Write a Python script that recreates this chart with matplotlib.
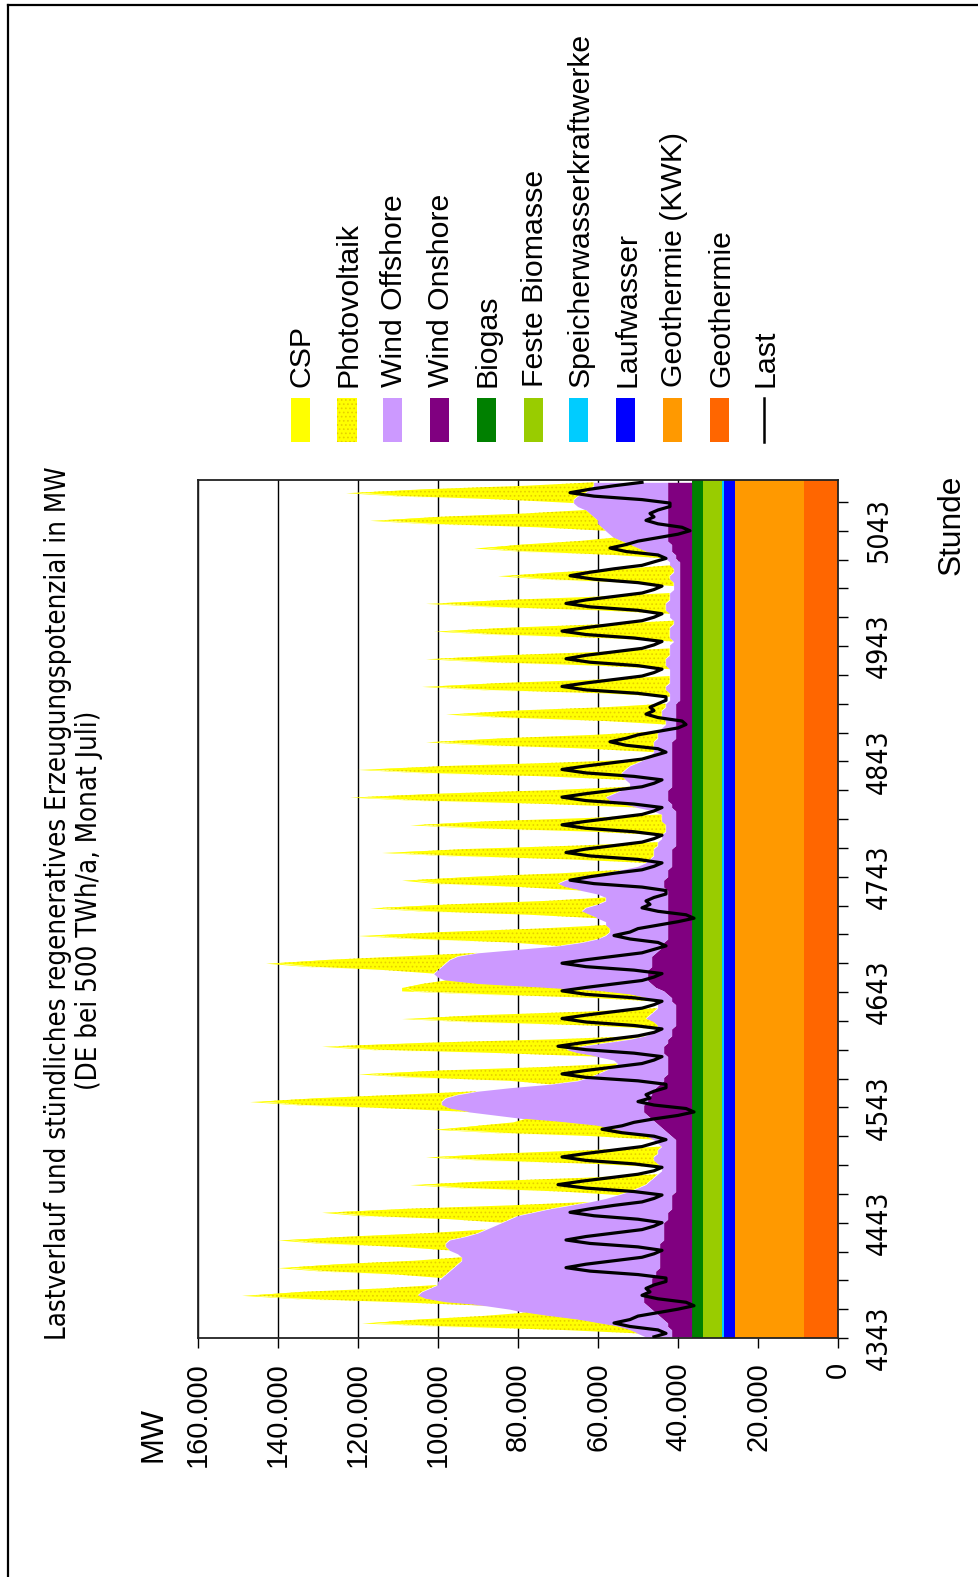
import numpy as np
import matplotlib
matplotlib.use("Agg")
import matplotlib.pyplot as plt
from matplotlib import font_manager
from matplotlib.patches import Rectangle
from matplotlib.lines import Line2D

W, H, DPI = 979, 1577, 100

# ---------------- data (values in 1000 MW) ----------------
START_HOUR = 4343
END_HOUR = 5087
SAMPLE_HOURS = [1, 4, 7, 10, 13, 16, 19, 22]   # sampled hours of each day

geothermie = 8.4
geothermie_kwk = 17.4
laufwasser = 2.8
speicherwasser = 0.4
feste_biomasse = 4.7
biogas = 2.9

wind_onshore = [
    [5, 5, 5, 6, 6, 7, 8, 9], [10, 11, 12, 12, 12, 11, 11, 10], [10, 10, 9, 9, 8, 8, 8, 8],
    [8, 8, 8, 8, 7, 7, 7, 7], [7, 7, 6, 6, 6, 5, 5, 5], [5, 5, 4, 4, 4, 4, 4, 4],
    [4, 4, 4, 4, 4, 4, 4, 4], [4, 4, 5, 6, 7, 8, 9, 10], [11, 12, 12, 12, 11, 11, 10, 10],
    [9, 8, 7, 7, 6, 6, 6, 6], [6, 6, 7, 7, 7, 6, 6, 5], [5, 5, 4, 4, 4, 4, 4, 4],
    [4, 5, 5, 6, 7, 9, 10, 11], [11, 11, 11, 10, 10, 10, 10, 9], [8, 7, 7, 6, 6, 6, 6, 6],
    [6, 6, 6, 6, 6, 6, 6, 6], [6, 6, 7, 7, 7, 6, 6, 6], [5, 5, 5, 5, 5, 5, 4, 4],
    [4, 4, 4, 4, 4, 4, 4, 4], [4, 5, 5, 6, 6, 6, 6, 5], [5, 5, 5, 5, 5, 5, 5, 5],
    [5, 5, 5, 5, 5, 4, 4, 4], [4, 4, 4, 4, 4, 4, 4, 4], [3, 3, 3, 3, 3, 3, 3, 3],
    [3, 3, 3, 3, 3, 3, 3, 3], [3, 3, 3, 3, 3, 3, 3, 3], [3, 3, 3, 3, 3, 3, 3, 3],
    [3, 3, 3, 3, 3, 3, 3, 3], [3, 4, 4, 5, 5, 5, 6, 6], [6, 6, 6, 6, 6, 6, 6, 6],
    [6, 6, 6, 6, 6, 6, 6, 6],
]

wind_offshore = [
    [6.5, 8.5, 10.5, 12.5, 17.5, 21.5, 27.5, 32.5], [35.5, 40.5, 49.5, 54.5, 56.5, 56.5, 54.5, 53.5],
    [53.5, 52.5, 52.5, 51.5, 51.5, 50.5, 49.5, 49.5], [50.5, 52.5, 53.5, 53.5, 53.5, 49.5, 46.5, 44.5],
    [42.5, 40.5, 39.5, 37.5, 33.5, 30.5, 25.5, 20.5], [16.5, 13.5, 11.5, 9.5, 7.5, 6.5, 5.5, 4.5],
    [3.5, 3.5, 4.5, 5.5, 5.5, 4.5, 4.5, 3.5], [4.5, 5.5, 6.5, 9.5, 12.5, 15.5, 22.5, 31.5],
    [37.5, 43.5, 48.5, 50.5, 51.5, 50.5, 48.5, 43.5], [36.5, 27.5, 21.5, 18.5, 17.5, 15.5, 13.5, 12.5],
    [13.5, 17.5, 21.5, 24.5, 20.5, 15.5, 9.5, 6.5], [4.5, 3.5, 4.5, 5.5, 7.5, 6.5, 5.5, 4.5],
    [4.5, 4.5, 6.5, 9.5, 16.5, 29.5, 43.5, 50.5], [52.5, 53.5, 52.5, 52.5, 51.5, 50.5, 48.5, 44.5],
    [35.5, 26.5, 20.5, 17.5, 15.5, 14.5, 14.5, 15.5], [15.5, 17.5, 19.5, 21.5, 20.5, 17.5, 15.5, 15.5],
    [17.5, 21.5, 24.5, 26.5, 24.5, 21.5, 15.5, 11.5], [8.5, 6.5, 5.5, 4.5, 4.5, 4.5, 4.5, 4.5],
    [3.5, 3.5, 2.5, 2.5, 2.5, 3.5, 3.5, 3.5], [5.5, 8.5, 12.5, 14.5, 15.5, 13.5, 11.5, 10.5],
    [10.5, 11.5, 12.5, 12.5, 11.5, 10.5, 8.5, 6.5], [5.5, 4.5, 4.5, 4.5, 4.5, 4.5, 4.5, 4.5],
    [3.5, 2.5, 2.5, 3.5, 3.5, 3.5, 2.5, 2.5], [2.5, 2.5, 2.5, 3.5, 3.5, 2.5, 2.5, 2.5],
    [2.5, 2.5, 3.5, 3.5, 3.5, 2.5, 2.5, 2.5], [2.5, 1.5, 2.5, 2.5, 2.5, 2.5, 1.5, 1.5],
    [2.5, 2.5, 3.5, 3.5, 3.5, 2.5, 2.5, 2.5], [1.5, 1.5, 1.5, 2.5, 2.5, 1.5, 1.5, 2.5],
    [2.5, 2.5, 4.5, 6.5, 8.5, 10.5, 11.5, 13.5], [14.5, 15.5, 16.5, 17.5, 17.5, 18.5, 19.5, 20.5],
    [22.5, 23.5, 23.5, 22.5, 20.5, 19.5, 18.5, 18.5],
]

photovoltaik = [
    [0, 0, 17, 42, 56, 40, 17, 0], [0, 0, 12, 31, 41, 30, 12, 0], [0, 0, 12, 31, 41, 30, 12, 0],
    [0, 0, 12, 30, 40, 29, 12, 0], [0, 0, 15, 38, 50, 36, 15, 0], [0, 0, 17, 42, 56, 40, 17, 0],
    [0, 0, 16, 41, 54, 39, 16, 0], [0, 0, 13, 32, 42, 30, 13, 0], [0, 0, 14, 34, 45, 32, 14, 0],
    [0, 0, 17, 43, 57, 41, 17, 0], [0, 0, 19, 47, 62, 45, 19, 0], [0, 0, 17, 44, 58, 42, 17, 0],
    [0, 0, 14, 35, 46, 33, 14, 0], [0, 0, 13, 32, 42, 30, 13, 0], [0, 0, 18, 44, 59, 42, 18, 0],
    [0, 0, 15, 38, 51, 37, 15, 0], [0, 0, 11, 29, 38, 27, 11, 0], [0, 0, 20, 49, 65, 47, 20, 0],
    [0, 0, 18, 46, 61, 44, 18, 0], [0, 0, 18, 46, 61, 44, 18, 0], [0, 0, 19, 48, 64, 46, 19, 0],
    [0, 0, 16, 41, 54, 39, 16, 0], [0, 0, 15, 38, 51, 37, 15, 0], [0, 0, 17, 44, 58, 42, 17, 0],
    [0, 0, 17, 43, 57, 41, 17, 0], [0, 0, 17, 42, 56, 40, 17, 0], [0, 0, 17, 43, 57, 41, 17, 0],
    [0, 0, 12, 30, 40, 29, 12, 0], [0, 0, 11, 29, 38, 27, 11, 0], [0, 0, 16, 41, 54, 39, 16, 0],
    [0, 0, 17, 43, 57, 41, 17, 0],
]

csp = [[0, 0, 0, 1, 3, 1, 0, 0] for _ in range(31)]

last = [
    [46, 43, 45, 52, 56, 52, 50, 45], [40, 36, 38, 45, 49, 47, 48, 46], [43, 43, 50, 62, 68, 63, 56, 49],
    [46, 44, 50, 62, 68, 63, 56, 49], [46, 44, 50, 61, 67, 62, 56, 49], [46, 44, 51, 63, 70, 64, 57, 50],
    [46, 44, 51, 63, 69, 63, 56, 49], [46, 43, 46, 54, 59, 54, 51, 46], [40, 36, 38, 46, 50, 47, 48, 46],
    [43, 43, 50, 63, 69, 63, 56, 49], [46, 44, 51, 63, 70, 64, 57, 50], [46, 44, 51, 63, 69, 63, 56, 49],
    [46, 44, 51, 63, 69, 63, 56, 49], [46, 44, 51, 63, 69, 63, 56, 49], [46, 43, 45, 52, 56, 52, 50, 45],
    [40, 36, 38, 45, 49, 47, 48, 46], [43, 43, 49, 61, 67, 62, 56, 49], [46, 44, 50, 62, 68, 63, 56, 49],
    [46, 44, 51, 63, 69, 63, 56, 49], [46, 44, 51, 63, 69, 63, 56, 49], [46, 44, 51, 63, 69, 63, 56, 49],
    [46, 43, 45, 53, 57, 53, 50, 45], [40, 38, 39, 45, 48, 46, 47, 45], [43, 43, 50, 63, 69, 63, 56, 49],
    [46, 44, 50, 62, 68, 63, 56, 49], [46, 44, 51, 63, 69, 63, 56, 49], [46, 44, 50, 62, 68, 63, 56, 49],
    [46, 44, 50, 61, 67, 62, 56, 49], [46, 43, 45, 53, 57, 53, 50, 45], [40, 37, 39, 45, 48, 46, 47, 45],
    [42, 42, 49, 61, 67, 62, 56, 49],
]

mw_ticks = [0, 20, 40, 60, 80, 100, 120, 140, 160]
mw_labels = ["0", "20.000", "40.000", "60.000", "80.000", "100.000", "120.000", "140.000", "160.000"]
hour_labels = [4343, 4443, 4543, 4643, 4743, 4843, 4943, 5043]

legend_names = ["CSP", "Photovoltaik", "Wind Offshore", "Wind Onshore", "Biogas", "Feste Biomasse",
                "Speicherwasserkraftwerke", "Laufwasser", "Geothermie (KWK)", "Geothermie", "Last"]

# ---------------- styles ----------------
C_CSP = "#FFFF00"
C_PV = "#FFFF00"
C_PV_HATCH = "#E6CF00"
C_OFF = "#CC99FF"
C_ON = "#800080"
C_BIOGAS = "#008000"
C_FESTE = "#99CC00"
C_SPEICHER = "#00CCFF"
C_LAUF = "#0000FF"
C_GEOKWK = "#FF9900"
C_GEO = "#FF6600"

ttf = font_manager.fontManager.ttflist
names = {f.name for f in ttf}
REG = "Liberation Sans" if "Liberation Sans" in names else "DejaVu Sans"
if "Liberation Sans Narrow" in names:
    NARROW = font_manager.FontProperties(family="Liberation Sans Narrow")
else:
    cond = [f for f in ttf if f.name == "DejaVu Sans" and "ondensed" in str(f.stretch)
            and f.weight in (400, "normal") and f.style == "normal"]
    if cond:
        NARROW = font_manager.FontProperties(fname=cond[0].fname)
    else:
        NARROW = font_manager.FontProperties(family=REG)

plt.rcParams["hatch.linewidth"] = 0.7

fig = plt.figure(figsize=(W / DPI, H / DPI), dpi=DPI)
renderer = fig.canvas.get_renderer()


def fx(x):
    return x / W


def fy(y):
    return 1 - y / H


def fit(text, target_px, fp):
    if isinstance(fp, str):
        fp = font_manager.FontProperties(family=fp)
    fp = fp.copy()
    fp.set_size(20)
    t = fig.text(0, 0, text, fontproperties=fp)
    w = t.get_window_extent(renderer).width
    t.remove()
    return 20 * target_px / w


def props(fp, size):
    if isinstance(fp, str):
        fp = font_manager.FontProperties(family=fp)
    fp = fp.copy()
    fp.set_size(size)
    return fp


# ---------------- axes ----------------
ax = fig.add_axes([fx(198), fy(1338), fx(838) - fx(198), fy(480) - fy(1338)])
ax.set_xlim(160, 0)
ax.set_ylim(START_HOUR, END_HOUR)

t = np.array([START_HOUR + 24 * d + h for d in range(len(last)) for h in SAMPLE_HOURS], dtype=float)
on = np.array(wind_onshore, float).ravel()
off = np.array(wind_offshore, float).ravel()
pv = np.array(photovoltaik, float).ravel()
cs = np.array(csp, float).ravel()
ld = np.array(last, float).ravel()

tf = np.array([START_HOUR, END_HOUR], float)
base_layers = [(geothermie, C_GEO), (geothermie_kwk, C_GEOKWK), (laufwasser, C_LAUF),
               (speicherwasser, C_SPEICHER), (feste_biomasse, C_FESTE), (biogas, C_BIOGAS)]
lo = 0.0
for val, col in base_layers:
    ax.fill_betweenx(tf, lo, lo + val, color=col, lw=0, zorder=2)
    lo += val

base = np.full_like(t, lo)
c1 = base + on
c2 = c1 + off
c3 = c2 + pv
c4 = c3 + cs
ax.fill_betweenx(t, base, c1, color=C_ON, lw=0, zorder=2)
ax.fill_betweenx(t, c1, c2, color=C_OFF, lw=0, zorder=2)
ax.fill_betweenx(t, c2, c3, facecolor=C_PV, edgecolor=C_PV_HATCH, hatch="....", lw=0, zorder=2)
ax.fill_betweenx(t, c3, c4, color=C_CSP, lw=0, zorder=2)
ax.plot(ld, t, color="black", lw=2.3, zorder=3, solid_joinstyle="round")

ax.set_axisbelow(True)
ax.set_xticks(mw_ticks)
ax.grid(axis="x", color="black", lw=1.0)
ax.grid(axis="y", visible=False)

tick_fp = props(REG, fit("160.000", 105, REG))
ax.set_xticklabels(mw_labels, rotation=90, fontproperties=tick_fp)
ax.tick_params(axis="x", direction="out", length=7.2, width=1.0, pad=10, colors="black")

hour_fp = props(NARROW, fit("4343", 65, NARROW))
ax.set_yticks([h for h in hour_labels])
ax.set_yticks(np.arange(START_HOUR, END_HOUR, 25), minor=True)
ax.yaxis.tick_right()
ax.set_yticklabels([str(h) for h in hour_labels], rotation=90, va="center", fontproperties=hour_fp)
ax.tick_params(axis="y", which="both", direction="out", length=7.2, width=1.0, pad=12)
for s in ax.spines.values():
    s.set_linewidth(1.3)
    s.set_color("#222222")

# ---------------- texts ----------------
t1 = "Lastverlauf und stündliches regeneratives Erzeugungspotenzial in MW"
t2 = "(DE bei 500 TWh/a, Monat Juli)"
title_fp = props(NARROW, fit(t1, 872, NARROW))
fig.text(fx(58), fy(903), t1, rotation=90, rotation_mode="anchor", ha="center", va="center",
         fontproperties=title_fp)
fig.text(fx(89), fy(900), t2, rotation=90, rotation_mode="anchor", ha="center", va="center",
         fontproperties=title_fp)

fig.text(fx(960), fy(525), "Stunde", rotation=90, rotation_mode="anchor", ha="center",
         va="baseline", fontproperties=props(REG, fit("Stunde", 100, REG)))
fig.text(fx(162), fy(1462), "MW", rotation=90, rotation_mode="anchor", ha="left",
         va="baseline", fontproperties=props(REG, fit("MW", 55, REG)))

# ---------------- legend ----------------
leg_fp = props(REG, fit("Speicherwasserkraftwerke", 354, REG))
leg_x = [300.2, 347.1, 392.4, 439.5, 486.3, 533.4, 578.8, 625.8, 672.7, 719.6, 764.2]
leg_cols = [C_CSP, C_PV, C_OFF, C_ON, C_BIOGAS, C_FESTE, C_SPEICHER, C_LAUF, C_GEOKWK, C_GEO, None]
pw, py0, py1 = 19.3, 397.7, 441.7
for name, cx, col in zip(legend_names, leg_x, leg_cols):
    if col is None:
        fig.add_artist(Line2D([fx(cx), fx(cx)], [fy(py0), fy(py1)], color="black", lw=1.8,
                              transform=fig.transFigure))
    else:
        kw = dict(facecolor=col, lw=0)
        if name == "Photovoltaik":
            kw = dict(facecolor=col, edgecolor=C_PV_HATCH, hatch="....", lw=0)
        fig.add_artist(Rectangle((fx(cx - pw / 2), fy(py1)), pw / W, (py1 - py0) / H,
                                 transform=fig.transFigure, **kw))
    fig.text(fx(cx + pw / 2), fy(386.7), name, rotation=90, rotation_mode="anchor",
             ha="left", va="baseline", fontproperties=leg_fp)

# ---------------- frame ----------------
fig.add_artist(Line2D([fx(8), fx(8)], [fy(5), 0], color="black", lw=1.6, transform=fig.transFigure))
fig.add_artist(Line2D([fx(8), 1], [fy(5), fy(5)], color="black", lw=1.6, transform=fig.transFigure))

fig.savefig("out.png", dpi=DPI)
